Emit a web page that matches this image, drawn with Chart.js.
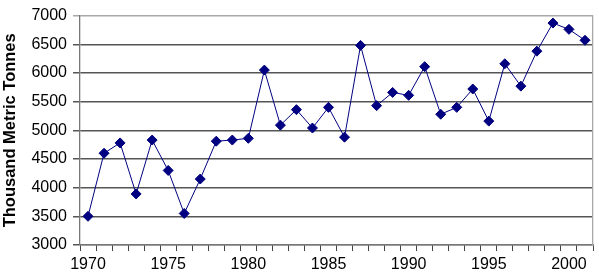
<!DOCTYPE html>
<html>
<head>
<meta charset="utf-8">
<script src="https://cdn.jsdelivr.net/npm/chart.js@4/dist/chart.umd.min.js"></script>
<style>
html,body{margin:0;padding:0;background:#fff;}
#wrap{width:599px;height:278px;position:relative;}
</style>
</head>
<body>
<div id="wrap"><canvas id="c" width="599" height="278"></canvas></div>
<script>
const years = [1970,1971,1972,1973,1974,1975,1976,1977,1978,1979,1980,1981,1982,1983,1984,1985,1986,1987,1988,1989,1990,1991,1992,1993,1994,1995,1996,1997,1998,1999,2000,2001];
const production = [3500,4600,4780,3890,4830,4300,3550,4150,4810,4830,4860,6050,5090,5360,5040,5400,4880,6480,5430,5660,5610,6110,5280,5400,5720,5160,6160,5770,6380,6870,6760,6570];
const yTicks = [3000,3500,4000,4500,5000,5500,6000,6500,7000];
const yTitle = 'Thousand Metric Tonnes';

const font = {family: '"Liberation Sans", Arial, sans-serif', size: 16};

new Chart(document.getElementById('c'), {
  type: 'line',
  data: {
    labels: years.map(String),
    datasets: [{
      data: production,
      borderColor: '#000080',
      borderWidth: 1,
      backgroundColor: '#000080',
      pointStyle: 'rectRot',
      pointRadius: 5,
      pointBorderWidth: 1,
      pointBackgroundColor: '#000080',
      pointBorderColor: '#000080',
      tension: 0,
      fill: false
    }]
  },
  options: {
    responsive: false,
    animation: false,
    events: [],
    layout: {padding: {top: 13, right: 4, left: 0, bottom: 0}},
    plugins: {legend: {display: false}, tooltip: {enabled: false}},
    scales: {
      x: {
        type: 'category',
        offset: true,
        grid: {offset: true, drawOnChartArea: false, drawTicks: true, tickLength: 6, color: '#444'},
        border: {display: true, color: '#777', width: 1.3},
        ticks: {
          autoSkip: false, maxRotation: 0, minRotation: 0, color: '#000', font: font, padding: 4,
          callback: function(v){ const l = this.getLabelForValue(v); return (Number(l) % 5 === 0) ? l : ''; }
        },
        afterFit: s => { s.height = 33; }
      },
      y: {
        min: 3000, max: 7000,
        afterBuildTicks: s => { s.ticks = yTicks.map(v => ({value: v})); },
        grid: {
          color: c => (c.tick && c.tick.value === 7000) ? '#a8a8a8' : '#555555',
          lineWidth: 1.5,
          drawTicks: true, tickLength: 7
        },
        border: {display: true, color: '#777', width: 1.3},
        ticks: {color: '#000', font: font, padding: 6, callback: v => String(v)},
        title: {display: true, text: yTitle, color: '#000',
          font: {family: '"Liberation Sans", Arial, sans-serif', size: 16.5, weight: 'bold'},
          padding: {top: 1, bottom: 0}},
        afterFit: s => { s.width = 80; }
      },
      y2: {
        position: 'right',
        min: 3000, max: 7000,
        grid: {drawOnChartArea: false, drawTicks: false},
        border: {display: true, color: '#a8a8a8', width: 1.3},
        ticks: {display: false},
        afterFit: s => { s.width = 0; }
      }
    }
  }
});
</script>
</body>
</html>
